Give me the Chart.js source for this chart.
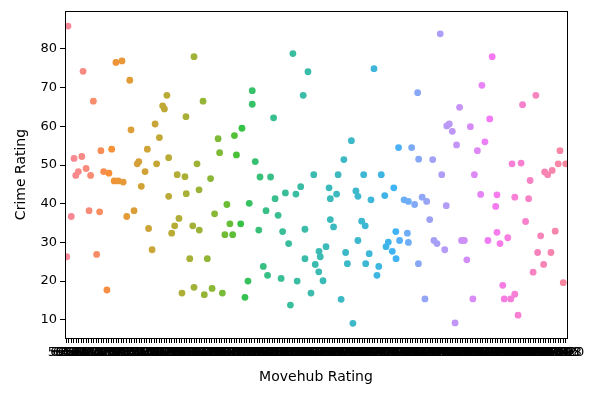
<!DOCTYPE html>
<html>
<head>
<meta charset="utf-8">
<script src="https://cdn.jsdelivr.net/npm/chart.js@4/dist/chart.umd.min.js"></script>
<style>
html,body{margin:0;padding:0;background:#fff;}
canvas{display:block;}
</style>
</head>
<body>
<canvas id="c" width="608" height="393" style="width:608px;height:393px"></canvas>
<script>
// Tick labels: Movehub Rating categories (unreadable in the reference; approximate)
const ratingLabels = ("59.88 62.46 64.15 65.52 66.21 67.49 68.03 68.62 69.14 69.77 " +
"70.07 70.43 70.88 71.25 71.59 71.94 72.31 72.66 72.98 73.27 " +
"73.55 73.84 74.13 74.39 74.62 74.91 75.18 75.43 75.70 75.96 " +
"76.22 76.48 76.71 76.95 77.19 77.42 77.66 77.88 78.10 78.33 " +
"78.55 78.76 78.98 79.19 79.40 79.61 79.82 80.02 80.23 80.44 " +
"80.63 80.82 81.01 81.20 81.39 81.58 81.77 81.95 82.13 82.31 " +
"82.49 82.67 82.84 83.01 83.18 83.35 83.52 83.69 83.86 84.02 " +
"84.18 84.34 84.50 84.66 84.82 84.98 85.13 85.28 85.43 85.58 " +
"85.73 85.88 86.03 86.18 86.33 86.48 86.62 86.76 86.90 87.04 " +
"87.18 87.32 87.46 87.60 87.74 87.88 88.02 88.15 88.28 88.41 " +
"88.54 88.67 88.80 88.93 89.06 89.19 89.32 89.45 89.58 89.71 " +
"89.84 89.97 90.10 90.22 90.34 90.46 90.58 90.70 90.82 90.94 " +
"91.06 91.18 91.30 91.42 91.54 91.66 91.78 91.90 92.02 92.14 " +
"92.26 92.38 92.50 92.62 92.74 92.86 92.98 93.10 93.22 93.34 " +
"93.46 93.58 93.70 93.82 93.94 94.06 94.18 94.30 94.42 94.54 " +
"94.66 94.78 94.90 95.02 95.14 95.26 95.38 95.50 95.62 95.74 " +
"95.86 95.98 96.10 96.22 96.34 96.46 96.58 96.70 96.82 96.94 " +
"97.06 97.18 97.30 97.42 97.54 97.66 97.78 97.90 98.02 98.14 " +
"98.26 98.38 98.50 98.62 98.74 98.86 98.98 99.10 99.22 99.34 " +
"99.46 99.56 99.66 99.74 99.81 99.87 99.92 99.96 99.98 100.0").split(" ");

// Category position of each point (category index + strip jitter)
const pointPos = [
0.7,0.2,2.0,3.1,3.8,4.8,6.2,6.7,7.9,9.1,9.7,10.8,12.1,13.3,13.8,14.9,16.2,17.0,18.1,19.1,
19.8,20.7,22.2,22.7,24.1,25.3,25.8,27.0,28.3,28.9,29.9,31.4,32.3,32.8,34.2,35.4,36.0,37.1,38.4,39.1,
40.1,40.8,40.8,42.0,43.2,44.2,44.9,46.1,47.3,47.7,47.8,49.2,50.4,50.9,50.9,52.1,52.9,53.0,54.5,55.0,
56.2,57.5,58.1,59.1,60.5,61.1,62.2,63.2,64.0,65.2,66.3,67.0,67.8,
69.5,70.0,71.2,72.4,72.9,74.1,74.1,75.3,76.7,77.2,78.5,79.6,80.2,81.4,82.6,83.2,84.4,85.6,86.2,87.3,
88.6,89.3,90.3,91.5,92.0,93.4,94.4,95.1,95.1,96.3,97.5,98.6,99.2,100.6,100.7,101.2,102.3,103.5,104.7,105.2,
105.2,106.5,107.7,108.3,109.5,110.6,111.3,112.0,113.6,114.2,115.4,116.2,116.2,117.7,118.5,119.1,119.3,120.7,121.4,122.6,
123.8,124.5,125.5,126.9,127.4,128.3,129.9,130.5,131.3,131.4,132.4,132.8,
134.6,135.9,136.3,136.3,137.6,138.8,140.0,140.3,140.4,141.8,142.9,143.6,144.8,146.0,146.5,147.7,149.0,149.6,150.8,151.4,
151.6,152.6,153.8,154.9,155.5,156.7,157.5,158.6,159.6,161.0,162.0,162.6,163.8,165.1,165.6,166.8,168.0,168.7,169.7,171.1,
171.6,171.6,172.8,173.9,174.5,175.9,177.1,177.6,178.7,178.7,180.0,181.2,181.8,183.0,184.2,184.8,186.0,187.1,187.8,189.0,
190.2,190.6,191.8,193.1,193.6,194.8,196.0,196.7,198.0,199.0
];

// Crime Rating of each point
const crimeRating = [
85.9,26.3,36.7,51.7,47.3,48.3,52.2,74.2,49.1,38.2,47.3,66.5,26.9,37.9,53.7,48.3,17.7,47.9,54.1,45.9,
76.5,45.9,76.9,45.6,36.7,71.9,59.1,38.2,50.3,50.9,44.5,48.3,54.1,33.6,28.1,60.6,50.3,57.1,65.3,64.5,
68.0,51.9,41.9,32.4,34.3,47.5,36.2,16.9,47.0,62.5,42.6,25.8,34.3,78.0,18.4,50.3,43.6,33.2,66.5,16.5,
25.8,46.5,18.1,37.4,56.8,53.2,16.9,32.0,39.8,34.8,32.0,57.6,52.6,
34.8,59.5,15.8,20.0,40.1,69.2,65.7,50.9,33.2,46.9,23.8,38.2,21.5,46.9,62.2,41.3,37.0,20.7,32.8,42.8,
29.7,13.8,78.8,42.5,20.0,44.4,68.0,33.4,25.8,74.1,16.9,47.5,24.3,22.4,27.7,26.3,20.1,28.9,44.1,41.3,
35.9,34.0,42.5,47.5,15.3,51.4,27.4,24.5,56.3,9.1,43.3,41.9,30.5,35.5,47.5,34.3,24.5,27.1,41.0,74.9,
21.5,23.8,47.5,42.1,28.9,30.1,27.7,44.1,32.8,25.8,54.5,30.5,
41.0,32.4,40.6,30.0,54.5,39.8,68.7,24.5,51.5,41.7,15.4,40.6,35.9,51.4,30.5,29.7,83.9,47.5,28.1,39.5,
60.1,60.6,58.7,9.2,55.2,64.9,30.5,30.5,25.5,59.9,15.4,47.5,53.7,42.4,70.6,56.0,30.5,61.9,78.0,39.3,
42.3,32.6,29.7,18.9,15.4,31.2,15.4,50.3,41.7,16.6,11.2,50.5,65.6,35.4,41.3,46.0,22.3,68.0,27.4,31.7,
24.3,48.2,47.5,27.4,48.6,32.9,50.3,53.7,19.6,50.3
];

const yTickValues = [10, 20, 30, 40, 50, 60, 70, 80];

// ---- HUSL colour conversion (seaborn husl palette) ----
const M = [[3.240969941904521,-1.537383177570093,-0.498610760293],
           [-0.96924363628087,1.87596750150772,0.041555057407175],
           [0.055630079696993,-0.20397695888897,1.056971514242878]];
const REF_U = 0.19783000664283, REF_V = 0.46831999493879, KAPPA = 903.2962962, EPS = 0.0088564516;
function bounds(L){
  const s1 = Math.pow(L+16,3)/1560896; const s2 = s1 > EPS ? s1 : L/KAPPA; const r = [];
  for (const [m1,m2,m3] of M) for (const t of [0,1]) {
    const top1 = (284517*m1 - 94839*m3)*s2;
    const top2 = (838422*m3 + 769860*m2 + 731718*m1)*L*s2 - 769860*t*L;
    const bot = (632260*m3 - 126452*m2)*s2 + 126452*t;
    r.push([top1/bot, top2/bot]);
  }
  return r;
}
function maxC(L,H){
  const h = H/360*Math.PI*2; let mn = Infinity;
  for (const [sl,ic] of bounds(L)) { const len = ic/(Math.sin(h) - sl*Math.cos(h)); if (len >= 0) mn = Math.min(mn,len); }
  return mn;
}
function husl2rgb(H,S,L){
  const C = maxC(L,H)/100*S; const h = H/360*Math.PI*2;
  const U = Math.cos(h)*C, V = Math.sin(h)*C;
  const Y = L <= 8 ? L/KAPPA : Math.pow((L+16)/116,3);
  const vu = U/(13*L) + REF_U, vv = V/(13*L) + REF_V;
  const X = 0 - (9*Y*vu)/((vu-4)*vv - vu*vv);
  const Z = (9*Y - 15*vv*Y - vv*X)/(3*vv);
  const rgb = M.map(([a,b,c]) => { let v = a*X + b*Y + c*Z; v = v <= 0.0031308 ? 12.92*v : 1.055*Math.pow(v,1/2.4) - 0.055; return Math.round(Math.max(0,Math.min(1,v))*255); });
  return `rgb(${rgb[0]},${rgb[1]},${rgb[2]})`;
}
const NCAT = ratingLabels.length;
function catColor(i){
  const hue = (((i / NCAT) + 0.01) % 1) * 359;
  return husl2rgb(hue, 0.9*99, 0.7*99);
}

const frame = {
  id: 'frame',
  afterDraw(chart){
    const {ctx, chartArea:a} = chart;
    ctx.save(); ctx.strokeStyle = '#000'; ctx.lineWidth = 1;
    ctx.strokeRect(Math.round(a.left)+0.5, Math.round(a.top)+0.5, Math.round(a.right-a.left), Math.round(a.bottom-a.top));
    ctx.restore();
  }
};

const FONT = "'DejaVu Sans', sans-serif";
new Chart(document.getElementById('c'), {
  type: 'scatter',
  data: { datasets: [{
    data: pointPos.map((x,i) => ({x, y: crimeRating[i]})),
    pointBackgroundColor: pointPos.map(x => catColor(Math.min(NCAT-1, Math.max(0, Math.round(x))))),
    pointRadius: 3.4, pointHoverRadius: 3.4, pointBorderWidth: 0, borderWidth: 0
  }]},
  options: {
    responsive: false, animation: false,
    plugins: { legend: {display:false}, tooltip: {enabled:false} },
    layout: { padding: {left:0, right:41, top:11, bottom:0} },
    scales: {
      x: {
        type: 'linear', min: -0.5, max: NCAT - 0.5,
        afterBuildTicks: s => { s.ticks = ratingLabels.map((_, i) => ({value: i})); },
        afterFit: s => { s.height = 55; },
        ticks: { autoSkip: false, maxRotation: 0, minRotation: 0, color: '#000', padding: 2,
                 font: {family: FONT, size: 13},
                 callback: v => ratingLabels[Math.round(v)] },
        grid: { drawOnChartArea: false, drawTicks: true, tickLength: 5, color: '#000', lineWidth: 1 },
        border: { display: true, color: '#000', width: 1 },
        title: { display: true, text: 'Movehub Rating', color: '#000', font: {family: FONT, size: 14}, padding: {top:0, bottom:7.6} }
      },
      y: {
        type: 'linear', min: 5.3, max: 89.8,
        afterBuildTicks: s => { s.ticks = yTickValues.map(v => ({value: v})); },
        afterFit: s => { s.width = 65; },
        ticks: { color: '#000', padding: 3, font: {family: FONT, size: 13} },
        grid: { drawOnChartArea: false, drawTicks: true, tickLength: 5, color: '#000', lineWidth: 1 },
        border: { display: true, color: '#000', width: 1 },
        title: { display: true, text: 'Crime Rating', color: '#000', font: {family: FONT, size: 14}, padding: {top:12.6, bottom:0} }
      }
    }
  },
  plugins: [frame]
});
</script>
</body>
</html>
